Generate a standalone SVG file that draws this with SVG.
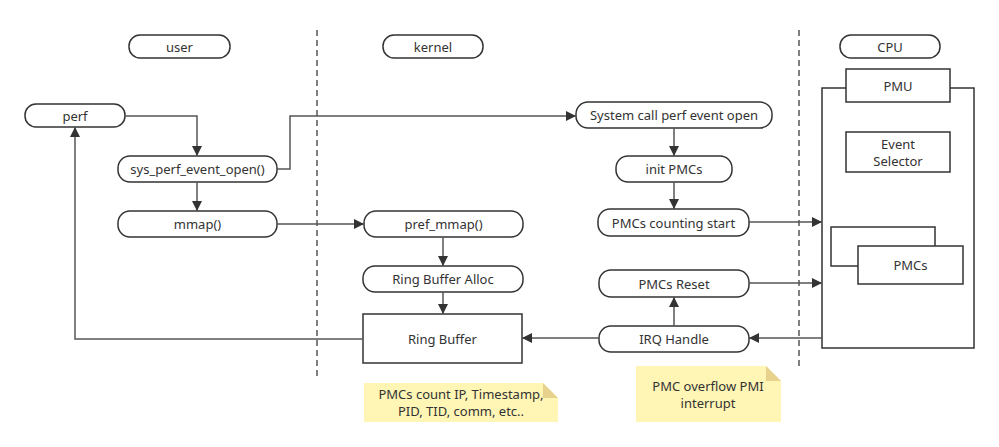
<svg xmlns="http://www.w3.org/2000/svg" width="999" height="447" viewBox="0 0 999 447">
<defs>
<marker id="arr" viewBox="0 0 10 10" refX="10" refY="5" markerWidth="10" markerHeight="10" markerUnits="userSpaceOnUse" orient="auto">
<path d="M0,0 L10,5 L0,10 Z" fill="#333"/>
</marker>
<style>
.n{fill:#fff;stroke:#333;stroke-width:1.5}
.t{font-family:"Noto Sans","Open Sans","Liberation Sans",sans-serif;font-size:13px;fill:#333;text-anchor:middle;dominant-baseline:central}
.c{fill:none;stroke:#555;stroke-width:1.5;marker-end:url(#arr)}
.d{fill:none;stroke:#555;stroke-width:1.5;stroke-dasharray:6,4}
.note{fill:#fff5b5}
.fold{fill:#e6d28c}
</style>
</defs>
<rect width="999" height="447" fill="#fff"/>
<g id="lanes">
<line class="d" x1="317" y1="30" x2="317" y2="377"/>
<line class="d" x1="799" y1="30" x2="799" y2="370"/>
</g>
<g id="user"><rect class="n" x="129" y="35" width="101" height="23" rx="11"/><text class="t" x="179.5" y="46.5">user</text></g>
<g id="kernel"><rect class="n" x="383" y="35" width="100" height="23" rx="11"/><text class="t" x="433" y="46.5">kernel</text></g>
<g id="cpu-label"><rect class="n" x="840" y="35" width="100" height="23" rx="11"/><text class="t" x="890" y="46.5">CPU</text></g>
<g id="cpu"><rect class="n" x="822" y="88" width="152" height="260"/></g>
<g id="pmu"><rect class="n" x="846" y="69" width="104" height="33"/><text class="t" x="898" y="85.5">PMU</text></g>
<g id="event-selector"><rect class="n" x="846" y="132" width="104" height="40"/><text class="t" x="898" y="143.5">Event</text><text class="t" x="898" y="160.5">Selector</text></g>
<g id="pmcs-back"><rect class="n" x="831" y="227" width="104" height="39"/></g>
<g id="pmcs"><rect class="n" x="858" y="246" width="105" height="38"/><text class="t" x="910.5" y="265">PMCs</text></g>
<g id="perf"><rect class="n" x="25" y="104" width="100" height="23" rx="11"/><text class="t" x="75" y="115.5">perf</text></g>
<g id="sys-open"><rect class="n" x="118" y="156" width="159" height="26" rx="12"/><text class="t" x="197.5" y="169">sys_perf_event_open()</text></g>
<g id="mmap"><rect class="n" x="118" y="211" width="159" height="26" rx="12"/><text class="t" x="197.5" y="224">mmap()</text></g>
<g id="pref-mmap"><rect class="n" x="364" y="211" width="159" height="26" rx="12"/><text class="t" x="443.5" y="224">pref_mmap()</text></g>
<g id="rb-alloc"><rect class="n" x="363" y="266" width="160" height="26" rx="12"/><text class="t" x="443" y="279">Ring Buffer Alloc</text></g>
<g id="ring-buffer"><rect class="n" x="363" y="314" width="159" height="49"/><text class="t" x="442.5" y="339">Ring Buffer</text></g>
<g id="syscall"><rect class="n" x="576" y="102" width="196" height="26" rx="12"/><text class="t" x="674" y="115">System call perf event open</text></g>
<g id="init-pmcs"><rect class="n" x="616" y="156" width="116" height="26" rx="12"/><text class="t" x="674" y="169">init PMCs</text></g>
<g id="counting"><rect class="n" x="598" y="209" width="151" height="27" rx="12"/><text class="t" x="673.5" y="222.5">PMCs counting start</text></g>
<g id="reset"><rect class="n" x="599" y="270" width="150" height="27" rx="12"/><text class="t" x="674" y="283.5">PMCs Reset</text></g>
<g id="irq"><rect class="n" x="599" y="326" width="150" height="26" rx="12"/><text class="t" x="674" y="339">IRQ Handle</text></g>
<g id="note1"><path class="note" d="M364,383 H543 L558,398 V422 H364 Z"/><path class="fold" d="M543,383 L558,398 H543 Z"/><text class="t" x="461" y="394">PMCs count IP, Timestamp,</text><text class="t" x="461" y="411">PID, TID, comm, etc..</text></g>
<g id="note2"><path class="note" d="M636,366 H766 L781,381 V422 H636 Z"/><path class="fold" d="M766,366 L781,381 H766 Z"/><text class="t" x="708" y="385.5">PMC overflow PMI</text><text class="t" x="708" y="402.5">interrupt</text></g>
<g id="connectors">
<path class="c" d="M125,116 H197 V156"/>
<path class="c" d="M197,182 V211"/>
<path class="c" d="M277,169 H290 V116 H576"/>
<path class="c" d="M277,224 H364"/>
<path class="c" d="M443,237 V266"/>
<path class="c" d="M443,292 V314"/>
<path class="c" d="M363,339 H75 V127"/>
<path class="c" d="M674,128 V156"/>
<path class="c" d="M674,182 V209"/>
<path class="c" d="M749,222 H822"/>
<path class="c" d="M674,326 V297"/>
<path class="c" d="M749,283 H822"/>
<path class="c" d="M822,338 H749"/>
<path class="c" d="M599,338 H522"/>
</g>
</svg>
